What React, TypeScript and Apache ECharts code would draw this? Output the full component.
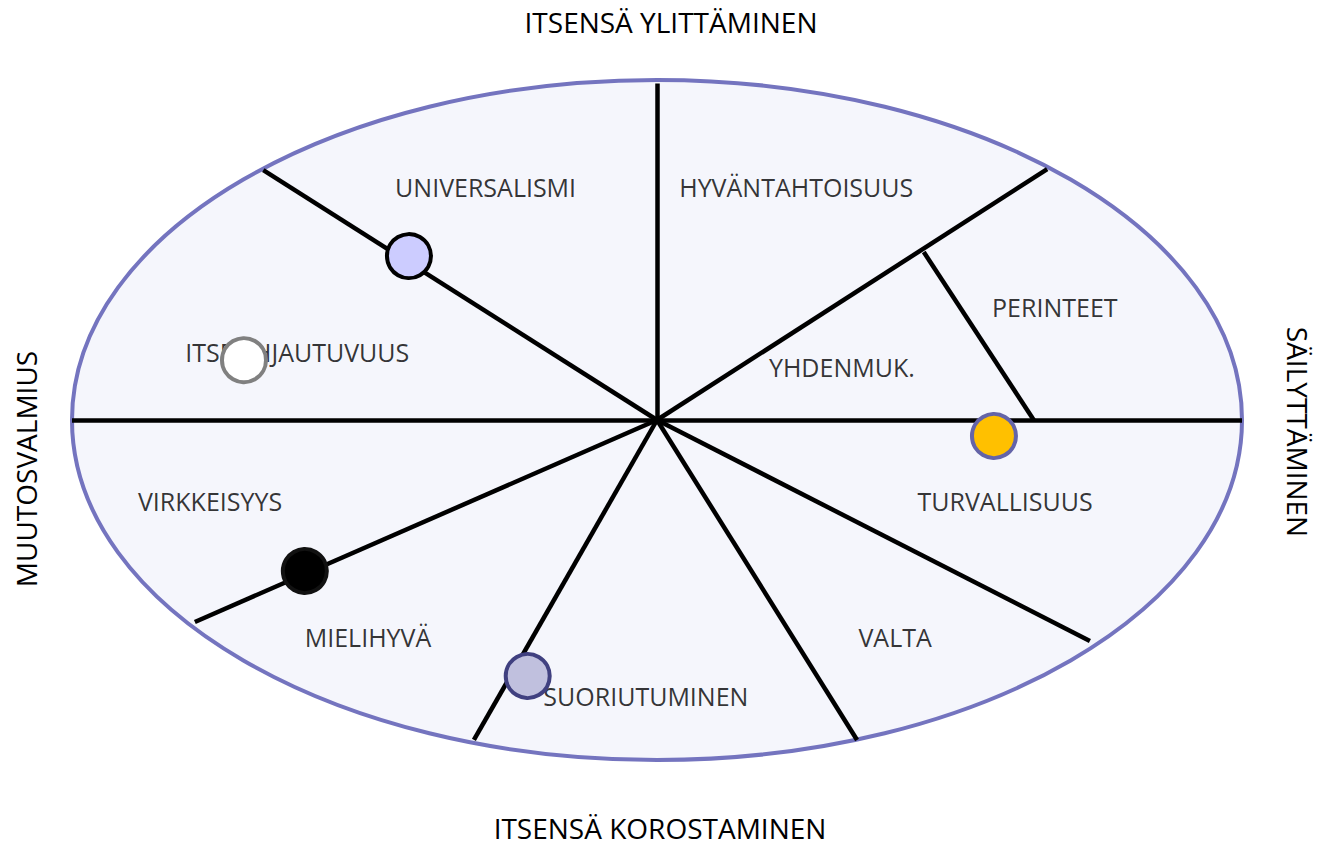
import React, { useEffect, useRef } from "react";
import * as echarts from "echarts";

// Spokes from centre (normalized ellipse coordinates: x,y in [-1,1])
const spokeEnds: [number, number][] = [
  [0, 0.99],
  [-1, 0],
  [1, 0],
  [-0.673, 0.735],
  [0.667, 0.738],
  [-0.79, -0.594],
  [-0.313, -0.941],
  [0.342, -0.941],
  [0.74, -0.65],
];
// Extra divider (PERINTEET / YHDENMUK.)
const dividerLine: [number, number][] = [
  [0.456, 0.494],
  [0.644, 0],
];

const valueNames = [
  "UNIVERSALISMI",
  "HYVÄNTAHTOISUUS",
  "PERINTEET",
  "YHDENMUK.",
  "ITSEOHJAUTUVUUS",
  "VIRKKEISYYS",
  "TURVALLISUUS",
  "MIELIHYVÄ",
  "VALTA",
  "SUORIUTUMINEN",
];
const valueX = [-0.293, 0.238, 0.68, 0.316, -0.615, -0.764, 0.595, -0.494, 0.407, -0.019];
const valueY = [0.685, 0.685, 0.332, 0.156, 0.2, -0.238, -0.238, -0.638, -0.638, -0.812];

const markerX = [-0.424, -0.706, -0.602, -0.221, 0.576];
const markerY = [0.482, 0.176, -0.444, -0.753, -0.047];
const markerFill = ["#ccccff", "#ffffff", "#000000", "#c0c0de", "#ffc000"];
const markerStroke = ["#000000", "#808080", "#111111", "#404080", "#6464a8"];

const dimensionTop = "ITSENSÄ YLITTÄMINEN";
const dimensionBottom = "ITSENSÄ KOROSTAMINEN";
const dimensionLeft = "MUUTOSVALMIUS";
const dimensionRight = "SÄILYTTÄMINEN";

const FONT = "'Open Sans', 'Noto Sans', sans-serif";

export default function App() {
  const ref = useRef<HTMLDivElement>(null);
  useEffect(() => {
    document.body.style.margin = "0";
    const chart = echarts.init(ref.current!, null, { renderer: "svg" });
    const lineData = spokeEnds.map((e) => ({ coords: [[0, 0], e] }));
    lineData.push({ coords: dividerLine });
    const outer = (text: string, x: number, y: number, rotation: number) => ({
      type: "text",
      x,
      y,
      rotation,
      style: {
        text,
        font: `28px ${FONT}`,
        fill: "#000",
        align: "center",
        verticalAlign: "middle",
      },
    });
    const option: any = {
      animation: false,
      backgroundColor: "#ffffff",
      grid: { left: 72, right: 77, top: 80, bottom: 89 },
      xAxis: { type: "value", min: -1, max: 1, show: false },
      yAxis: { type: "value", min: -1, max: 1, show: false },
      graphic: [
        outer(dimensionTop, 671, 22, 0),
        outer(dimensionBottom, 660, 828, 0),
        outer(dimensionLeft, 26, 469, Math.PI / 2),
        outer(dimensionRight, 1298, 432, -Math.PI / 2),
      ],
      series: [
        {
          type: "custom",
          z: 1,
          silent: true,
          data: [[0, 0]],
          renderItem: (_p: any, api: any) => {
            const tl = api.coord([-1, 1]);
            const br = api.coord([1, -1]);
            return {
              type: "ellipse",
              shape: {
                cx: (tl[0] + br[0]) / 2,
                cy: (tl[1] + br[1]) / 2,
                rx: (br[0] - tl[0]) / 2,
                ry: (br[1] - tl[1]) / 2,
              },
              style: { fill: "#f5f6fc", stroke: "#7474bf", lineWidth: 4 },
            };
          },
        },
        {
          type: "lines",
          coordinateSystem: "cartesian2d",
          z: 2,
          silent: true,
          lineStyle: { color: "#000", width: 4.5, opacity: 1 },
          data: lineData,
        },
        {
          type: "scatter",
          z: 3,
          silent: true,
          symbolSize: 0,
          label: {
            show: true,
            position: "inside",
            formatter: (p: any) => p.name,
            color: "#000",
            fontSize: 25,
            fontFamily: FONT,
          },
          data: valueNames.map((n, i) => ({ name: n, value: [valueX[i], valueY[i]] })),
        },
        {
          type: "scatter",
          z: 4,
          silent: true,
          symbol: "circle",
          symbolSize: 44,
          data: markerX.map((x, i) => ({
            value: [x, markerY[i]],
            itemStyle: {
              color: markerFill[i],
              borderColor: markerStroke[i],
              borderWidth: 4,
              opacity: 1,
            },
          })),
        },
      ],
    };
    chart.setOption(option);
    return () => chart.dispose();
  }, []);
  return <div ref={ref} style={{ width: 1319, height: 849 }} />;
}
